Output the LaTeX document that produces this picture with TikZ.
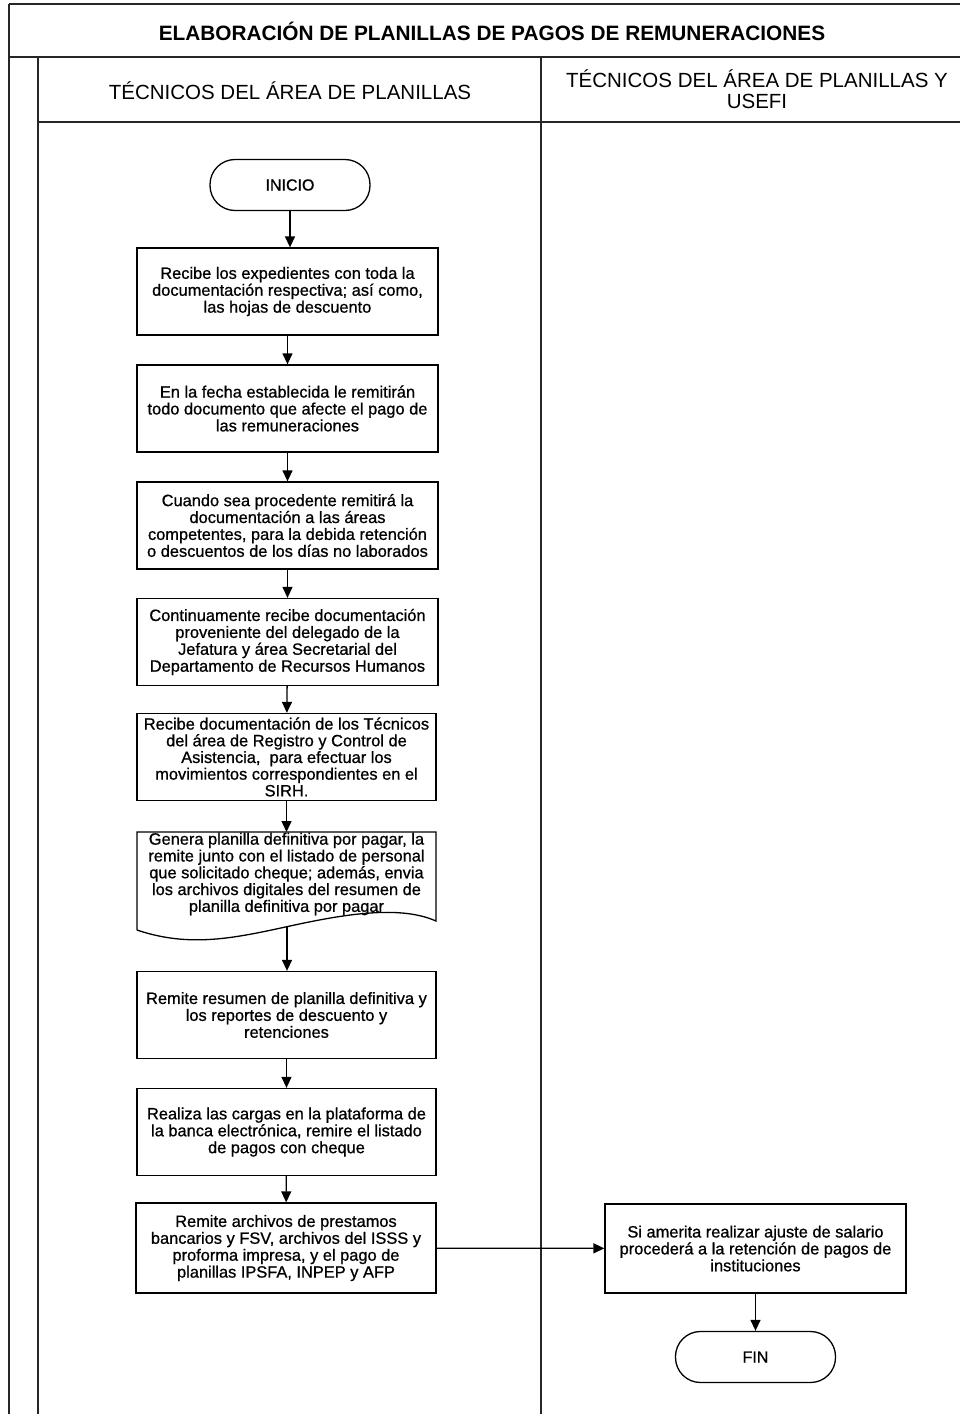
\documentclass[tikz,border=0pt]{standalone}
\usepackage{fontspec}
\setmainfont{Liberation Sans}
\newfontfamily\bodyfont[FakeBold=0.8]{Liberation Sans}
\usetikzlibrary{arrows.meta}
\begin{document}
\begin{tikzpicture}[x=1pt,y=-1pt,
  frame/.style={line width=1.1pt,black!85},
  procbox/.style={draw,line width=1.3pt,rectangle,minimum width=300pt,minimum height=87pt,
    align=center,inner sep=0pt,font=\bodyfont\fontsize{16.4}{16.9}\selectfont},
  term/.style={draw,line width=1.3pt,rounded corners=25pt,minimum width=160pt,minimum height=51pt,
    font=\bodyfont\fontsize{16}{16}\selectfont},
  flow/.style={line width=1.3pt,-{Triangle[length=11pt,width=10pt]}},
  lanehead/.style={font=\fontsize{20.5}{21}\selectfont,align=center}]
\useasboundingbox (0,0) rectangle (960,1414);
\fill[white] (0,0) rectangle (960,1414);

% swimlane frame
\draw[frame] (9,4) -- (960,4);
\draw[frame] (9,4) -- (9,1414);
\draw[frame] (9,57) -- (960,57);
\draw[frame] (38,57) -- (38,1414);
\draw[frame] (541,57) -- (541,1414);
\draw[frame] (38,122) -- (960,122);

\node[font=\bfseries\fontsize{20.8}{21}\selectfont] (title) at (492,31) {ELABORACIÓN DE PLANILLAS DE PAGOS DE REMUNERACIONES};
\node[lanehead] (lane1) at (290,91) {TÉCNICOS DEL ÁREA DE PLANILLAS};
\node[lanehead] (lane2) at (757,89) {TÉCNICOS DEL ÁREA DE PLANILLAS Y\\USEFI};

% process steps
\node[term] (inicio) at (290,185) {INICIO};
\node[procbox,minimum width=301pt] (b1) at (287.5,291.5) {Recibe los expedientes con toda la\\documentación respectiva; así como,\\las hojas de descuento};
\node[procbox,minimum width=301pt] (b2) at (287.5,408.5) {En la fecha establecida le remitirán\\todo documento que afecte el pago de\\las remuneraciones};
\node[procbox,minimum width=301pt] (b3) at (287.5,525.5) {Cuando sea procedente remitirá la\\documentación a las áreas\\competentes, para la debida retención\\o descuentos de los días no laborados};
\node[procbox,minimum width=301pt] (b4) at (287.5,642) {Continuamente recibe documentación\\proveniente del delegado de la\\Jefatura y área Secretarial del\\Departamento de Recursos Humanos};
\node[procbox,minimum width=299pt,font=\bodyfont\fontsize{16.4}{16.7}\selectfont] (b5) at (286.5,757) {Recibe documentación de los Técnicos\\del área de Registro y Control de\\Asistencia,\ \ para efectuar los\\movimientos correspondientes en el\\SIRH.};

% document shape with wavy bottom
\node[align=center,inner sep=0pt,font=\bodyfont\fontsize{16.4}{16.8}\selectfont] (doc) at (286.5,874) {Genera planilla definitiva por pagar, la\\remite junto con el listado de personal\\que solicitado cheque; además, envia\\los archivos digitales del resumen de\\planilla definitiva por pagar};
\draw[line width=1.3pt] (137,930) -- (137,832) -- (436,832) -- (436,921)
  .. controls (400,905) and (345,914) .. (290,926)
  .. controls (235,938) and (190,948) .. (137,930);
\coordinate (docout) at (287,927);

\node[procbox,minimum width=299pt] (b6) at (286.5,1015) {Remite resumen de planilla definitiva y\\los reportes de descuento y\\retenciones};
\node[procbox,minimum width=299pt] (b7) at (286.5,1132) {Realiza las cargas en la plataforma de\\la banca electrónica, remire el listado\\de pagos con cheque};
\node[procbox,minimum width=300pt,minimum height=90pt] (b8) at (286,1248) {Remite archivos de prestamos\\bancarios y FSV, archivos del ISSS y\\proforma impresa, y el pago de\\planillas IPSFA, INPEP y AFP};
\node[procbox,minimum width=301pt,minimum height=89pt] (b9) at (755.5,1248.5) {Si amerita realizar ajuste de salario\\procederá a la retención de pagos de\\instituciones};
\node[term] (fin) at (755.5,1357) {FIN};

% connectors
\draw[flow] (inicio.south) -- (inicio.south |- b1.north);
\draw[flow] (b1) -- (b2);
\draw[flow] (b2) -- (b3);
\draw[flow] (b3) -- (b4);
\draw[flow] (b4) -- (b5);
\draw[flow] (b5.south) -- (b5.south |- 0,832);
\draw[flow] (docout) -- (docout |- b6.north);
\draw[flow] (b6) -- (b7);
\draw[flow] (b7) -- (b8);
\draw[flow] (b8) -- (b9);
\draw[flow] (b9) -- (fin);
\end{tikzpicture}
\end{document}
